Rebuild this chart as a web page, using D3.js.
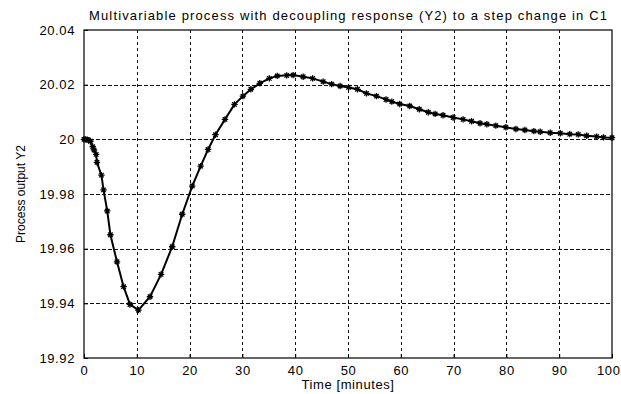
<!DOCTYPE html>
<html>
<head>
<meta charset="utf-8">
<script src="https://cdn.jsdelivr.net/npm/d3@7"></script>
<style>
  body { margin: 0; background: #fff; }
  svg text { font-family: "Liberation Sans", Arial, sans-serif; fill: #000; }
</style>
</head>
<body>
<div id="chart"></div>
<script>
// readings
const timeMin = [0, 0.3, 0.6, 0.9, 1.2, 1.65, 1.9, 2.3, 2.45, 3.3, 3.7, 4.4, 5.0, 6.25, 7.5, 8.7, 10.3,
  12.5, 14.6, 16.7, 18.6, 20.5, 22.1, 23.5, 24.9, 26.7, 28.5, 30.1, 31.6, 33.3, 35.1, 36.6, 38.4,
  39.6, 41.5, 43.3, 45.3, 46.9, 48.5, 50.1, 51.8, 53.5, 55.4, 57.2, 58.3, 59.8, 61.7, 63.5, 65.2,
  66.5, 68.0, 69.9, 71.8, 73.4, 75.0, 76.3, 78.0, 79.9, 81.8, 83.5, 85.2, 86.4, 88.3, 90.2, 92.0,
  93.6, 95.2, 97.1, 98.4, 100];
const outputY2 = [20.0, 20.0, 19.9999, 19.9997, 19.9993, 19.9973, 19.9961, 19.9945, 19.9916, 19.9869,
  19.9815, 19.9738, 19.9651, 19.9552, 19.9461, 19.9396, 19.9375, 19.9424, 19.9506, 19.9607, 19.9726,
  19.9829, 19.9902, 19.9963, 20.0017, 20.0073, 20.0128, 20.0158, 20.0183, 20.0205, 20.0223, 20.0232,
  20.0234, 20.0235, 20.0229, 20.0223, 20.0211, 20.0202, 20.0195, 20.019, 20.0183, 20.0168, 20.0158,
  20.0146, 20.0138, 20.0129, 20.0122, 20.011, 20.0099, 20.0093, 20.0088, 20.008, 20.0073, 20.0066,
  20.0059, 20.0055, 20.005, 20.0044, 20.0038, 20.0034, 20.003, 20.0028, 20.0024, 20.0022, 20.0019,
  20.0018, 20.0013, 20.001, 20.0007, 20.0006];
const xTicks = [0, 10, 20, 30, 40, 50, 60, 70, 80, 90, 100];
const yTicks = [19.92, 19.94, 19.96, 19.98, 20, 20.02, 20.04];

const chartTitle = "Multivariable process with decoupling response (Y2) to a step change in C1";
const xTitle = "Time [minutes]";
const yTitle = "Process output Y2";

var width = 621, height = 394;
var margin = { top: 30, right: 9, bottom: 36, left: 84 };

var svg = d3.select("#chart").append("svg")
    .attr("width", width)
    .attr("height", height);

var x = d3.scaleLinear().domain([0, 100]).range([margin.left, width - margin.right]);
var y = d3.scaleLinear().domain([19.92, 20.04]).range([height - margin.bottom, margin.top]);

var data = timeMin.map((t, i) => ({ t: t, v: outputY2[i] }));

// grid
svg.append("g").selectAll("line")
    .data(xTicks.slice(1, -1))
    .enter().append("line")
    .attr("x1", d => Math.round(x(d)) + 0.5).attr("x2", d => Math.round(x(d)) + 0.5)
    .attr("y1", y(20.04)).attr("y2", y(19.92))
    .attr("stroke", "#111").attr("stroke-dasharray", "3,3");

svg.append("g").selectAll("line")
    .data(yTicks.slice(1, -1))
    .enter().append("line")
    .attr("y1", d => Math.round(y(d)) + 0.5).attr("y2", d => Math.round(y(d)) + 0.5)
    .attr("x1", x(0)).attr("x2", x(100))
    .attr("stroke", "#111").attr("stroke-dasharray", "4,2");

// axes
var xAxis = d3.axisBottom(x).tickValues(xTicks).tickSizeInner(-4).tickSizeOuter(0).tickPadding(8);
var yAxis = d3.axisLeft(y).tickValues(yTicks).tickSizeInner(-4).tickSizeOuter(0).tickPadding(9)
    .tickFormat(d => d === 20 ? "20" : d3.format(".2f")(d));

var gx = svg.append("g")
    .attr("transform", "translate(0," + y(19.92) + ")")
    .call(xAxis);
var gy = svg.append("g")
    .attr("transform", "translate(" + x(0) + ",0)")
    .call(yAxis);

[gx, gy].forEach(g => {
    g.select(".domain").remove();
    g.selectAll("line").attr("stroke", "#000");
    g.selectAll("text").attr("font-size", 13).attr("letter-spacing", 0.6);
});

// last x label sits at the window edge, keep it inside
gx.selectAll(".tick").filter(d => d === 100).select("text")
    .attr("text-anchor", "end").attr("x", 8);

// box
svg.append("rect")
    .attr("x", x(0)).attr("y", y(20.04))
    .attr("width", x(100) - x(0)).attr("height", y(19.92) - y(20.04))
    .attr("fill", "none").attr("stroke", "#000").attr("stroke-width", 1.2);

// curve
var line = d3.line().x(d => x(d.t)).y(d => y(d.v));
svg.append("path")
    .datum(data)
    .attr("d", line)
    .attr("fill", "none")
    .attr("stroke", "#000")
    .attr("stroke-width", 2);

// asterisk markers
var r = 3.2;
var marks = svg.append("g").selectAll("g")
    .data(data)
    .enter().append("g")
    .attr("transform", d => "translate(" + x(d.t) + "," + y(d.v) + ")");
marks.append("path")
    .attr("d", "M" + (-r) + ",0H" + r + "M0," + (-r) + "V" + r +
        "M" + (-r * 0.7) + "," + (-r * 0.7) + "L" + (r * 0.7) + "," + (r * 0.7) +
        "M" + (-r * 0.7) + "," + (r * 0.7) + "L" + (r * 0.7) + "," + (-r * 0.7))
    .attr("stroke", "#000")
    .attr("stroke-width", 1.3);

// titles
svg.append("text")
    .attr("x", 348).attr("y", 20)
    .attr("text-anchor", "middle")
    .attr("font-size", 13)
    .attr("textLength", 518)
    .text(chartTitle);

svg.append("text")
    .attr("x", 348).attr("y", 389)
    .attr("text-anchor", "middle")
    .attr("font-size", 13)
    .attr("letter-spacing", 0.6)
    .text(xTitle);

svg.append("text")
    .attr("transform", "translate(25,194) rotate(-90)")
    .attr("text-anchor", "middle")
    .attr("font-size", 12)
    .text(yTitle);
</script>
</body>
</html>
